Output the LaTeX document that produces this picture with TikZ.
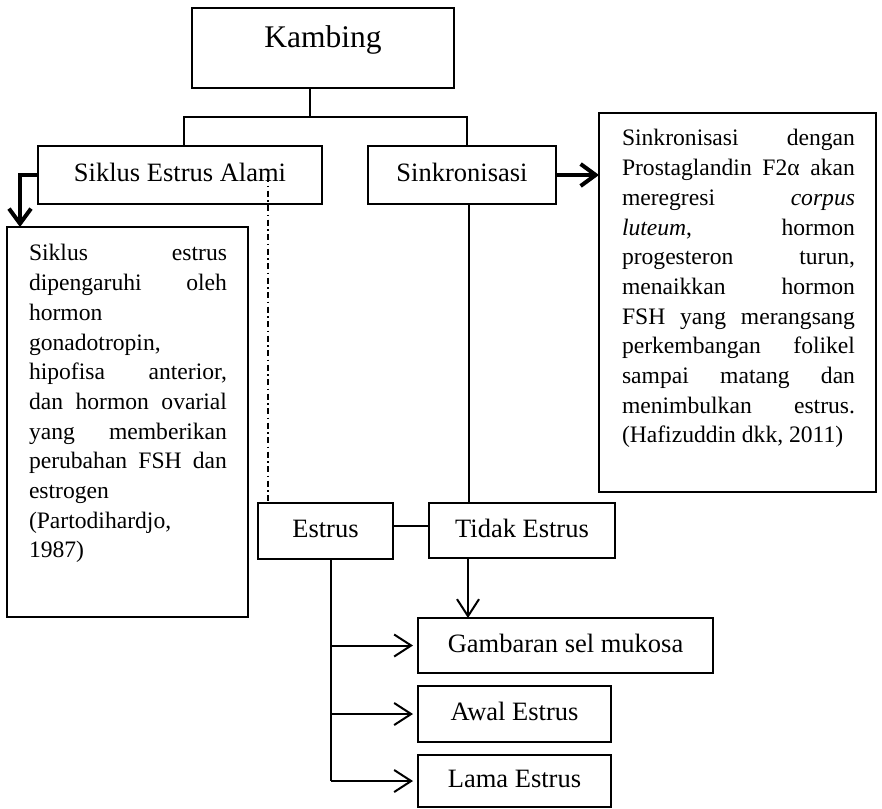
\documentclass[tikz,border=0pt]{standalone}
\usepackage{fontspec}
\setmainfont{Liberation Serif}
\usetikzlibrary{arrows.meta}
\newcommand\jl[2]{\makebox[#1][s]{#2}}
\newcommand\lfln[2]{\makebox[#1][l]{#2}}
\begin{document}
\begin{tikzpicture}[x=1pt,y=-1pt,
  boxnode/.style={draw, line width=1.8pt, inner sep=0pt, outer sep=0pt, rectangle},
  lbl/.style={boxnode, font=\fontsize{26.5}{30}\selectfont, text height=18pt, text depth=5pt},
  conn/.style={line width=1.5pt},
  heavyarrow/.style={line width=4pt, -{Straight Barb[length=15pt,width=22pt]}},
  thinarrow/.style={line width=2pt, -{Straight Barb[length=17pt,width=22pt]}},
  dashdotline/.style={line width=1.5pt, dash pattern=on 6pt off 3.5pt on 1.5pt off 3.5pt},
  bodytext/.style={anchor=north west, inner sep=0pt, outer sep=0pt, align=left, font=\fontsize{23.6}{29.7}\selectfont}
]
\useasboundingbox (0,0) rectangle (882,808);

% boxes
\node[boxnode, minimum width=262pt, minimum height=80pt] (kambing) at (323,48) {};
\node[anchor=base, inner sep=0pt, font=\fontsize{31.5}{36}\selectfont] (tkambing) at (323,48) {Kambing};

\node[lbl, minimum width=284pt, minimum height=58pt] (siklus) at (180,175) {Siklus Estrus Alami};
\node[lbl, minimum width=188pt, minimum height=58pt] (sinkron) at (462,175) {Sinkronisasi};

\node[boxnode, minimum width=241pt, minimum height=390pt] (kiri) at (127.5,422) {};
\node[boxnode, minimum width=277pt, minimum height=379pt] (kanan) at (737.5,302.5) {};

\node[bodytext] (tkiri) at (29,244.6) {%
\jl{198pt}{Siklus estrus}\\
\jl{198pt}{dipengaruhi oleh}\\
\lfln{198pt}{hormon}\\
\lfln{198pt}{gonadotropin,}\\
\jl{198pt}{hipofisa anterior,}\\
\jl{198pt}{dan hormon ovarial}\\
\jl{198pt}{yang memberikan}\\
\jl{198pt}{perubahan FSH dan}\\
\lfln{198pt}{estrogen}\\
\lfln{198pt}{(Partodihardjo,}\\
\lfln{198pt}{1987)}};

\node[bodytext] (tkanan) at (622,129.6) {%
\jl{233pt}{Sinkronisasi dengan}\\
\jl{233pt}{Prostaglandin F2α akan}\\
\jl{233pt}{meregresi \textit{corpus}}\\
\jl{233pt}{\textit{luteum}, hormon}\\
\jl{233pt}{progesteron turun,}\\
\jl{233pt}{menaikkan hormon}\\
\jl{233pt}{FSH yang merangsang}\\
\jl{233pt}{perkembangan folikel}\\
\jl{233pt}{sampai matang dan}\\
\jl{233pt}{menimbulkan estrus.}\\
\lfln{233pt}{(Hafizuddin dkk, 2011)}};

\node[lbl, minimum width=135pt, minimum height=56pt] (estrus) at (325.5,531) {Estrus};
\node[lbl, minimum width=186pt, minimum height=55pt] (tidak) at (522,530.5) {Tidak Estrus};
\node[lbl, minimum width=295pt, minimum height=55pt] (gambaran) at (565.5,645.5) {Gambaran sel mukosa};
\node[lbl, minimum width=193pt, minimum height=56pt] (awal) at (514.5,714) {Awal Estrus};
\node[lbl, minimum width=193pt, minimum height=52pt] (lama) at (514.5,781) {Lama Estrus};

% tree connectors
\coordinate (j0) at (310,117);
\coordinate (jl) at (184,117);
\coordinate (jr) at (467,117);
\draw[conn] (kambing.south -| j0) -- (j0);
\draw[conn] (siklus.north -| jl) -- (jl) -- (jr) -- (sinkron.north -| jr);

% heavy arrows
\coordinate (ka) at (20,175);
\draw[heavyarrow] (siklus.west) -- (ka) -- (kiri.north -| ka);
\draw[heavyarrow] (sinkron.east) -- (sinkron.east -| kanan.west);

% dash-dot line
\coordinate (dd) at (268,176);
\draw[dashdotline] (dd) -- (estrus.north -| dd);

% sinkronisasi to tidak estrus
\coordinate (sv) at (469,204);
\draw[conn] (sinkron.south -| sv) -- (tidak.north -| sv);

% estrus to tidak estrus
\coordinate (et) at (0,526);
\draw[conn] (estrus.east |- et) -- (tidak.west |- et);

% tidak estrus to gambaran
\coordinate (tg) at (468,560);
\draw[thinarrow] (tidak.south -| tg) -- (gambaran.north -| tg);

% estrus vertical with branches
\coordinate (ev) at (331,560);
\draw[line width=2pt] (estrus.south -| ev) -- (lama.west -| ev);
\draw[thinarrow, shorten >=5pt] (gambaran.west -| ev) -- (gambaran.west);
\draw[thinarrow, shorten >=5pt] (awal.west -| ev) -- (awal.west);
\draw[thinarrow, shorten >=5pt] (lama.west -| ev) -- (lama.west);
\end{tikzpicture}
\end{document}
